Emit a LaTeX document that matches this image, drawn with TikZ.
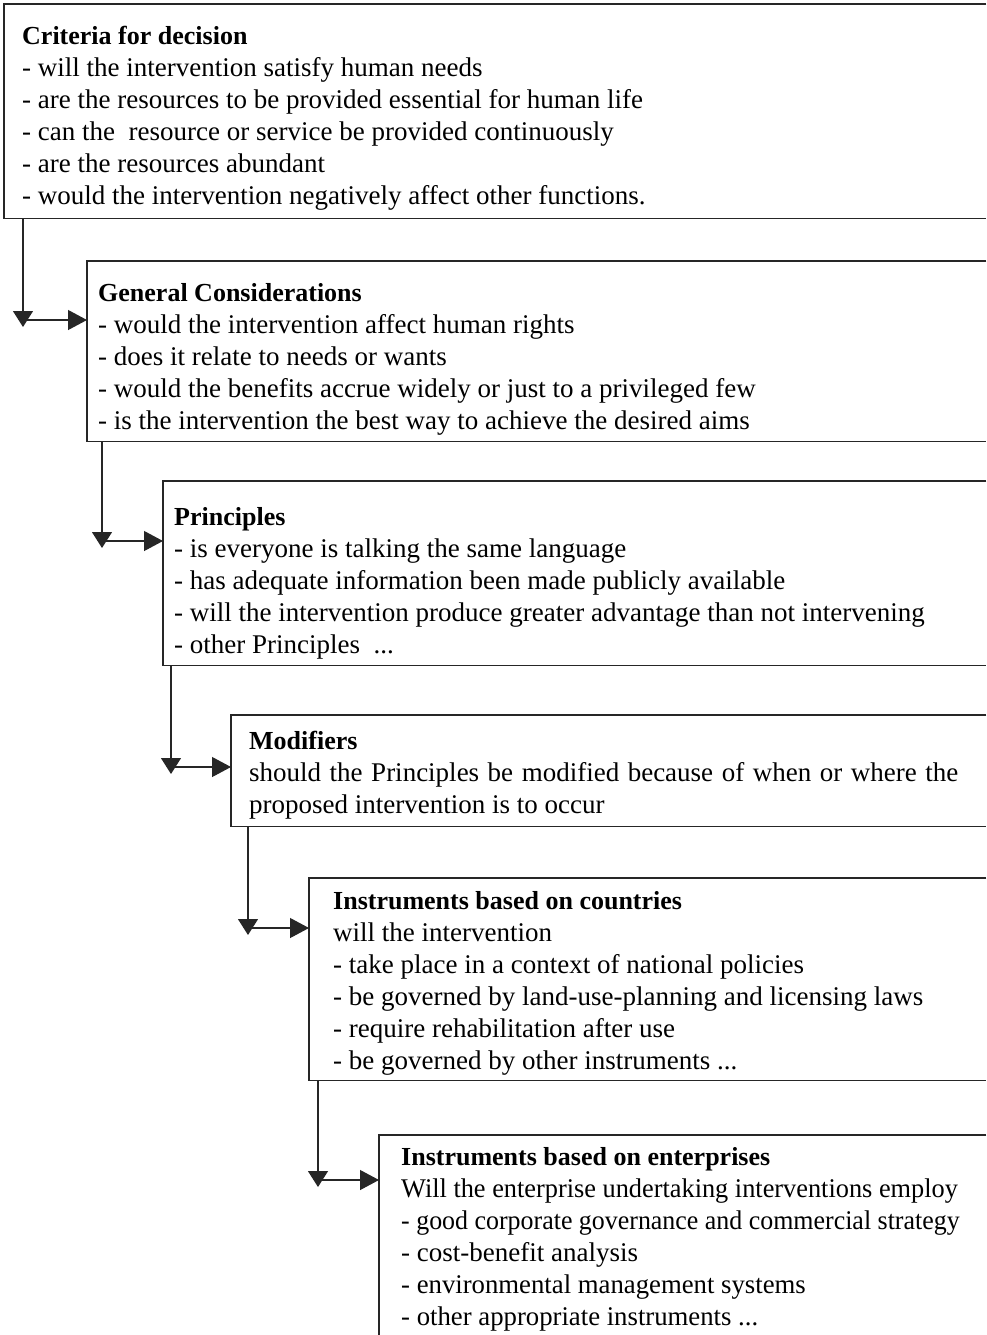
\documentclass[tikz,border=0pt]{standalone}
\usepackage{fontspec}
\usepackage{graphicx}
\setmainfont{Liberation Serif}
\usetikzlibrary{arrows.meta}
\tikzset{
  frame/.style={draw=none, inner sep=0pt, anchor=north west},
  side/.style={line width=1.2pt, draw=black!85},
  downarr/.style={side, -{Triangle[length=16pt,width=20pt]}},
  rightarr/.style={side, -{Triangle[length=19pt,width=20pt]}},
  txt/.style={anchor=base west, inner sep=0pt}
}
\newcommand{\blk}[2]{\parbox[t]{#1}{\fontsize{27}{32}\selectfont\raggedright #2}}
\newcommand{\ttl}[1]{{\fontsize{26}{32}\selectfont\textbf{#1}}}
\begin{document}
\begin{tikzpicture}[x=1pt,y=-1pt]
\useasboundingbox (0,0) rectangle (986,1335);
% boxes (open on the right)
\node[frame, minimum width=982pt, minimum height=214pt] (b1) at (4,4) {};
\node[frame, minimum width=899pt, minimum height=180pt] (b2) at (87,261) {};
\node[frame, minimum width=823pt, minimum height=184pt] (b3) at (163,481) {};
\node[frame, minimum width=755pt, minimum height=111pt] (b4) at (231,715) {};
\node[frame, minimum width=677pt, minimum height=202pt] (b5) at (309,878) {};
\node[frame, minimum width=607pt, minimum height=210pt] (b6) at (379,1135) {};
\foreach \b in {b1,b2,b3,b4,b5}{
  \draw[side] (\b.north east) -- (\b.north west) -- (\b.south west) -- (\b.south east);
}
\draw[side] (b6.north east) -- (b6.north west) -- (b6.south west);
% texts
\node[txt] (t1) at (22,45) {\blk{950pt}{\ttl{Criteria for decision}\\
- will the intervention satisfy human needs\\
- are the resources to be provided essential for human life\\
- can the \ resource or service be provided continuously\\
- are the resources abundant\\
- would the intervention negatively affect other functions.}};
\node[txt] (t2) at (98,301) {\blk{880pt}{\ttl{General Considerations}\\
- would the intervention affect human rights\\
- does it relate to needs or wants\\
- would the benefits accrue widely or just to a privileged few\\
- is the intervention the best way to achieve the desired aims}};
\node[txt] (t3) at (174,525) {\blk{800pt}{\ttl{Principles}\\
- is everyone is talking the same language\\
- has adequate information been made publicly available\\
- will the intervention produce greater advantage than not intervening\\
- other Principles \ ...}};
\node[txt] (t4) at (249,749) {\blk{720pt}{\ttl{Modifiers}\\
\makebox[709pt][s]{should the Principles be modified because of when or where the}\\
proposed intervention is to occur}};
\node[txt] (t5) at (333,909) {\blk{640pt}{\ttl{Instruments based on countries}\\
will the intervention\\
- take place in a context of national policies\\
- be governed by land-use-planning and licensing laws\\
- require rehabilitation after use\\
- be governed by other instruments ...}};
\node[txt] (t6) at (401,1165) {\blk{590pt}{\ttl{Instruments based on enterprises}\\
\scalebox{0.975}[1]{Will the enterprise undertaking interventions employ}\\
\scalebox{0.96}[1]{- good corporate governance and commercial strategy}\\
- cost-benefit analysis\\
\scalebox{0.99}[1]{- environmental management systems}\\
\scalebox{0.99}[1]{- other appropriate instruments ...}}};
% connectors
\coordinate (c1) at (23,320);
\coordinate (c2) at (102,541);
\coordinate (c3) at (171,767);
\coordinate (c4) at (248,928);
\coordinate (c5) at (318,1180);
\draw[downarr] (b1.south west -| c1) -- ([yshift=-7pt]c1);
\draw[rightarr] (c1) -- (c1 -| b2.west);
\draw[downarr] (b2.south west -| c2) -- ([yshift=-7pt]c2);
\draw[rightarr] (c2) -- (c2 -| b3.west);
\draw[downarr] (b3.south west -| c3) -- ([yshift=-7pt]c3);
\draw[rightarr] (c3) -- (c3 -| b4.west);
\draw[downarr] (b4.south west -| c4) -- ([yshift=-7pt]c4);
\draw[rightarr] (c4) -- (c4 -| b5.west);
\draw[downarr] (b5.south west -| c5) -- ([yshift=-7pt]c5);
\draw[rightarr] (c5) -- (c5 -| b6.west);
\end{tikzpicture}
\end{document}
